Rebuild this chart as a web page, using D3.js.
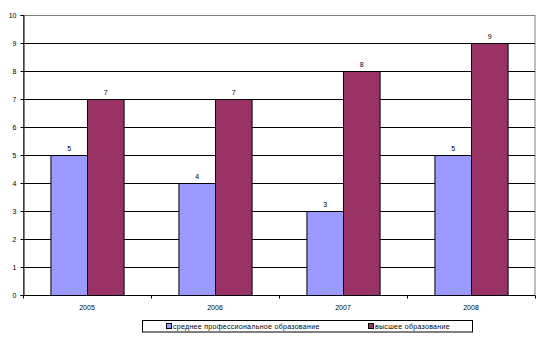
<!DOCTYPE html>
<html>
<head>
<meta charset="utf-8">
<script src="https://cdn.jsdelivr.net/npm/d3@7"></script>
<style>
  html, body { margin: 0; padding: 0; background: #fff; }
  svg { display: block; font-family: Arial, "Liberation Sans", sans-serif; }
</style>
</head>
<body>
<svg id="chart" width="544" height="337"></svg>
<script>
// Graduates by year and level of education
const years = ["2005", "2006", "2007", "2008"];
const seriesNames = ["среднее профессиональное образование", "высшее образование"];
const secondaryVocational = [5, 4, 3, 5];
const higherEducation = [7, 7, 8, 9];
const yTicks = [0, 1, 2, 3, 4, 5, 6, 7, 8, 9, 10];
const colors = ["#9999FF", "#993366"];

const seriesValues = [secondaryVocational, higherEducation];
const svg = d3.select("#chart");

const margin = { left: 23, right: 9, top: 15, bottom: 42 };
const W = 544, H = 337;
const plotW = W - margin.left - margin.right;
const plotH = H - margin.top - margin.bottom;

const g = svg.append("g").attr("transform", `translate(${margin.left},${margin.top})`);

const x = d3.scaleBand().domain(years).range([0, plotW]);
const barW = x.bandwidth() / 3.5; // gap width 150%
const xs = d3.scaleBand().domain(d3.range(seriesNames.length)).range([0, barW * 2]);
const y = d3.scaleLinear().domain([0, 10]).range([plotH, 0]);

// plot area frame
g.append("rect")
  .attr("x", 0.5).attr("y", 0.5)
  .attr("width", plotW - 0.5).attr("height", plotH)
  .attr("fill", "none").attr("stroke", "#808080").attr("stroke-width", 1);

// horizontal gridlines
g.append("g")
  .selectAll("line")
  .data(yTicks.filter(t => t > 0 && t < 10))
  .join("line")
  .attr("x1", 0).attr("x2", plotW)
  .attr("y1", d => Math.round(y(d)) + 0.5).attr("y2", d => Math.round(y(d)) + 0.5)
  .attr("stroke", "#000").attr("stroke-width", 1);

// bars
const groups = g.append("g").selectAll("g")
  .data(years)
  .join("g")
  .attr("transform", d => `translate(${x(d) + (x.bandwidth() - barW * 2) / 2},0)`);

groups.selectAll("rect")
  .data((d, i) => seriesValues.map((vals, s) => ({ s, v: vals[i] })))
  .join("rect")
  .attr("x", d => xs(d.s) + 0.5)
  .attr("y", d => Math.round(y(d.v)) + 0.5)
  .attr("width", barW)
  .attr("height", d => plotH - Math.round(y(d.v)))
  .attr("fill", d => colors[d.s])
  .attr("stroke", "#000").attr("stroke-width", 1);

// value labels
groups.selectAll("text")
  .data((d, i) => seriesValues.map((vals, s) => ({ s, v: vals[i] })))
  .join("text")
  .attr("x", d => xs(d.s) + barW / 2 + 0.5)
  .attr("y", d => y(d.v) - 4)
  .attr("text-anchor", "middle")
  .attr("font-size", 7)
  .attr("fill", "#000")
  .text(d => d.v);

// y axis
const yAxis = g.append("g")
  .attr("transform", "translate(0.5,0)")
  .call(d3.axisLeft(y).tickValues(yTicks).tickSize(3).tickPadding(4));
yAxis.select(".domain").attr("stroke", "#000");
yAxis.selectAll(".tick line").attr("stroke", "#000");
yAxis.selectAll("text").attr("font-size", 7).attr("font-family", "Arial, 'Liberation Sans', sans-serif").attr("fill", "#000");

// x axis: ticks on category boundaries
const xAxisG = g.append("g").attr("transform", `translate(0,${plotH + 0.5})`);
xAxisG.append("line").attr("x1", 0).attr("x2", plotW).attr("stroke", "#000");
xAxisG.selectAll("line.tk")
  .data(years.map(d => x(d)).concat([plotW]))
  .join("line").attr("class", "tk")
  .attr("x1", d => Math.round(d) + 0.5).attr("x2", d => Math.round(d) + 0.5)
  .attr("y1", 0).attr("y2", 3)
  .attr("stroke", "#000");
xAxisG.selectAll("text")
  .data(years)
  .join("text")
  .attr("x", d => x(d) + x.bandwidth() / 2)
  .attr("y", 14)
  .attr("text-anchor", "middle")
  .attr("font-size", 7)
  .attr("fill", "#000")
  .text(d => d);

// legend
const legend = svg.append("g");
legend.append("rect")
  .attr("x", 142.5).attr("y", 320.5)
  .attr("width", 330).attr("height", 11.5)
  .attr("fill", "#fff").attr("stroke", "#000").attr("stroke-width", 1);

const legendX = [166, 368];
const items = legend.selectAll("g.item")
  .data(seriesNames)
  .join("g").attr("class", "item")
  .attr("transform", (d, i) => `translate(${legendX[i]},326)`);
items.append("rect")
  .attr("x", 0.5).attr("y", -2.5).attr("width", 5).attr("height", 5)
  .attr("fill", (d, i) => colors[i]).attr("stroke", "#000").attr("stroke-width", 1);
items.append("text")
  .attr("x", 7).attr("y", 2.5)
  .attr("font-size", 7)
  .attr("letter-spacing", 0.3)
  .attr("fill", "#000")
  .text(d => d);
</script>
</body>
</html>
